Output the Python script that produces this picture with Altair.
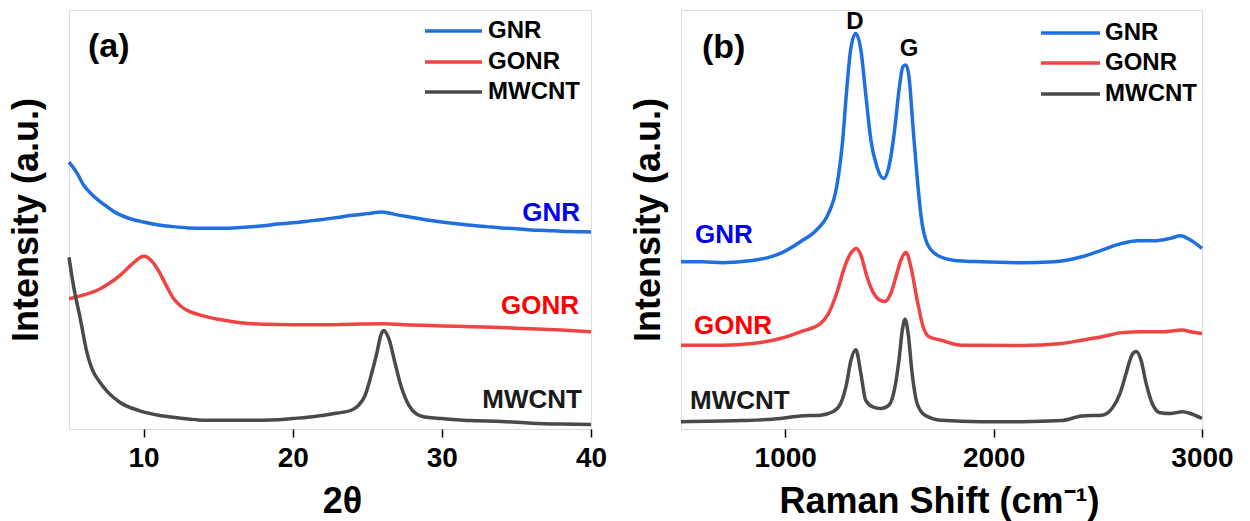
import altair as alt
import pandas as pd

FONT = "Liberation Sans"
series = ["GNR", "GONR", "MWCNT"]
line_colors = ["#1f6fde", "#f04343", "#4a4a4a"]
label_colors = ["#0000ee", "#ff0000", "#1a1a1a"]

# ---------- (a) XRD ----------
xrd_gnr_x = [5, 5.5, 6, 6.5, 7, 7.5, 8, 9, 10, 11, 12, 13, 14, 15, 16, 17, 18, 19, 20,
             21, 22, 23, 24, 25, 26, 27, 28, 29, 30, 31, 32, 33, 34, 35, 36, 37, 38, 39, 40]
xrd_gnr_y = [63.7, 61.3, 58.1, 56.1, 54.5, 53.2, 51.9, 50.3, 49.4, 48.7, 48.3, 48.0, 47.9,
             47.9, 48.0, 48.2, 48.5, 48.9, 49.2, 49.6, 50.0, 50.5, 51.0, 51.4, 51.8, 51.1,
             50.5, 49.9, 49.4, 49.0, 48.6, 48.3, 48.0, 47.8, 47.5, 47.4, 47.2, 47.1, 47.0]

xrd_gonr_x = [5, 6, 7, 8, 8.5, 9, 9.5, 10, 10.5, 11, 11.5, 12, 12.5, 13, 14, 15, 16, 17, 18,
              20, 22, 24, 26, 28, 30, 32, 34, 36, 38, 40]
xrd_gonr_y = [31.1, 32.0, 33.3, 35.5, 36.9, 38.6, 40.2, 41.2, 40.3, 37.8, 34.4, 31.2, 29.3,
              28.2, 27.0, 26.2, 25.6, 25.2, 25.0, 24.9, 24.9, 25.0, 25.1, 24.8, 24.6, 24.4,
              24.2, 23.9, 23.6, 23.2]

xrd_mw_x = [5, 5.3, 5.76, 6.2, 6.55, 7, 7.6, 8.4, 9.7, 11, 12, 13, 14, 16, 18, 19, 20, 21,
            22, 23, 24, 24.4, 24.85, 25.25, 25.65, 25.9, 26.1, 26.45, 26.85, 27.25, 27.8,
            28.3, 29, 30, 32, 34, 36, 38, 40]
xrd_mw_y = [41.0, 34.2, 26.3, 18.3, 14.3, 11.5, 8.8, 6.4, 4.4, 3.3, 2.8, 2.4, 2.1, 2.1, 2.1,
            2.2, 2.5, 2.8, 3.2, 3.8, 4.6, 5.6, 8.0, 12.7, 18.3, 22.3, 23.5, 21.5, 15.9, 10.4,
            5.6, 3.6, 2.8, 2.5, 2.0, 1.8, 1.4, 1.2, 1.1]

# ---------- (b) Raman ----------
ram_gnr_x = [500, 600, 700, 842, 977, 1073, 1150, 1208, 1247, 1276, 1295, 1314, 1338, 1363,
             1386, 1411, 1440, 1472, 1501, 1527, 1546, 1565, 1579, 1594, 1613, 1633, 1652,
             1681, 1729, 1806, 1941, 2134, 2288, 2423, 2520, 2616, 2693, 2770, 2848, 2896,
             2944, 3000]
ram_gnr_y = [39.9, 39.9, 39.7, 40.2, 41.9, 44.7, 47.5, 51.5, 57.8, 69.0, 80.9, 90.5, 94.4,
             90.5, 80.1, 69.0, 62.6, 59.8, 63.4, 72.2, 80.9, 86.5, 86.9, 84.1, 72.2, 60.2,
             50.7, 44.3, 41.5, 40.3, 39.9, 39.7, 39.9, 41.1, 42.7, 44.3, 44.9, 44.9, 45.5,
             46.1, 45.1, 43.1]

ram_gonr_x = [500, 700, 842, 977, 1073, 1170, 1208, 1247, 1285, 1314, 1343, 1363, 1392, 1420,
              1449, 1478, 1507, 1536, 1555, 1580, 1603, 1633, 1662, 1690, 1748, 1845, 2134,
              2327, 2423, 2520, 2616, 2712, 2809, 2906, 2944, 3000]
ram_gonr_y = [20.0, 20.0, 20.4, 21.6, 23.2, 25.2, 27.6, 32.4, 38.7, 41.9, 43.1, 41.5, 36.4,
              32.8, 30.9, 30.4, 32.4, 37.2, 40.3, 42.1, 38.7, 30.8, 24.4, 22.0, 21.2, 20.0,
              19.9, 20.4, 21.2, 22.0, 23.0, 23.2, 23.2, 23.6, 23.2, 22.8]

ram_mw_x = [500, 784, 977, 1073, 1170, 1228, 1266, 1295, 1314, 1339, 1363, 1386, 1420, 1459,
            1498, 1527, 1546, 1562, 1575, 1590, 1609, 1633, 1671, 1748, 1941, 2134, 2327,
            2423, 2520, 2568, 2607, 2636, 2664, 2684, 2707, 2732, 2761, 2799, 2848, 2906,
            2944, 3000]
ram_mw_y = [1.75, 2.0, 2.5, 3.1, 3.3, 4.1, 6.1, 10.9, 16.1, 18.9, 13.3, 6.9, 5.3, 4.9, 5.7,
            10.1, 16.5, 23.6, 26.2, 22.8, 13.3, 6.1, 3.3, 2.1, 1.75, 1.75, 2.0, 3.1, 3.3, 4.9,
            8.5, 13.3, 17.7, 18.5, 16.5, 10.9, 6.1, 3.9, 3.7, 4.1, 3.7, 2.5]


def long_df(pairs):
    rows = []
    for name, xs, ys in pairs:
        for xv, yv in zip(xs, ys):
            rows.append({"series": name, "x": xv, "y": yv})
    return pd.DataFrame(rows)


xrd_df = long_df([("GNR", xrd_gnr_x, xrd_gnr_y), ("GONR", xrd_gonr_x, xrd_gonr_y),
                  ("MWCNT", xrd_mw_x, xrd_mw_y)])
ram_df = long_df([("GNR", ram_gnr_x, ram_gnr_y), ("GONR", ram_gonr_x, ram_gonr_y),
                  ("MWCNT", ram_mw_x, ram_mw_y)])

H = 419


def text_layer(t, x, y, size, color="black", align="left", baseline="alphabetic"):
    return alt.Chart(pd.DataFrame({"t": [t]})).mark_text(
        font=FONT, fontWeight="bold", fontSize=size, color=color,
        align=align, baseline=baseline
    ).encode(text="t:N", x=alt.value(x), y=alt.value(y))


def panel(df, width, xdom, xticks, xtitle, title_x, ytitle_pad,
          leg_x1, leg_x2, leg_tx, leg_rows, labels, tag, tag_xy, extras):
    lines = alt.Chart(df).mark_line(strokeWidth=3.5, interpolate="monotone").encode(
        x=alt.X("x:Q", scale=alt.Scale(domain=xdom, nice=False, zero=False),
                axis=alt.Axis(values=xticks, title=xtitle, grid=False, domain=False,
                              format="d",
                              labelFont=FONT, labelFontSize=28, labelFontWeight="bold",
                              labelColor="black", labelFlush=False, labelPadding=7,
                              tickColor="black", tickSize=8, tickWidth=1.5,
                              titleFont=FONT, titleFontSize=36, titleFontWeight="bold",
                              titleColor="black", titleX=title_x, titleAlign="center",
                              titleY=83, titleBaseline="alphabetic")),
        y=alt.Y("y:Q", scale=alt.Scale(domain=[0, 100], nice=False, zero=False),
                axis=alt.Axis(labels=False, ticks=False, domain=False, grid=False,
                              title="Intensity (a.u.)", titleFont=FONT, titleFontSize=36,
                              titleFontWeight="bold", titleColor="black",
                              titlePadding=ytitle_pad, titleBaseline="alphabetic")),
        color=alt.Color("series:N", scale=alt.Scale(domain=series, range=line_colors),
                        legend=None),
    )
    layers = [lines]
    for i, name in enumerate(series):
        yy = leg_rows[i]
        layers.append(
            alt.Chart(pd.DataFrame({"s": [name]})).mark_rule(
                strokeWidth=3.5, color=line_colors[i]
            ).encode(x=alt.value(leg_x1), x2=alt.value(leg_x2), y=alt.value(yy))
        )
        layers.append(text_layer(name, leg_tx, yy, 24, baseline="middle"))
    for i, (name, lx, ly, al) in enumerate(labels):
        layers.append(text_layer(name, lx, ly, 26, color=label_colors[i], align=al))
    layers.append(text_layer(tag, tag_xy[0], tag_xy[1], 34))
    for t, ex, ey in extras:
        layers.append(text_layer(t, ex, ey, 24, align="center"))
    return alt.layer(*layers).properties(width=width, height=H)


pa = panel(xrd_df, 522, [5, 40], [10, 20, 30, 40], "2θ", 273, 32,
           356, 413, 419, [21, 52, 82],
           [("GNR", 511, 211, "right"), ("GONR", 510, 304, "right"),
            ("MWCNT", 513, 398, "right")],
           "(a)", (19, 47), [])

pb = panel(ram_df, 521, [500, 3000], [1000, 2000, 3000], "Raman Shift (cm⁻¹)", 258, 22,
           360, 419, 424, [23, 53, 84],
           [("GNR", 14, 233, "left"), ("GONR", 13, 324, "left"),
            ("MWCNT", 9, 399, "left")],
           "(b)", (21, 48), [("D", 174, 19), ("G", 228, 46)])

chart = alt.hconcat(pa, pb, spacing=21).properties(
    padding={"left": 7, "top": 9, "right": 5, "bottom": 5}
).configure_view(stroke="#333333", strokeWidth=1.5).configure(background="white")

chart.save("out.html", embed_options={"renderer": "svg", "actions": False})
